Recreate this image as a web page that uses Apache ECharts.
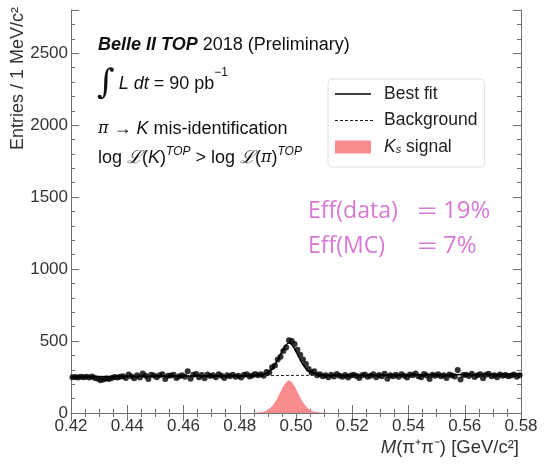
<!DOCTYPE html>
<html>
<head>
<meta charset="utf-8">
<script src="https://cdn.jsdelivr.net/npm/echarts@6/dist/echarts.min.js"></script>
<style>html,body{margin:0;padding:0;background:#fff;}#c{width:551px;height:467px;}</style>
</head>
<body>
<div id="c"></div>
<script>
// Data: bin centres 0.4205 ... 0.5795 (1 MeV bins)
const binStart = 0.4205;
const binWidth = 0.001;
const dataCounts = [
  248, 250, 246, 252, 249, 251, 247, 253, 243, 238,
  228, 232, 240, 236, 244, 250, 247, 252, 256, 244,
  268, 254, 241, 262, 247, 275, 258, 237, 266, 261,
  249, 262, 270, 236, 258, 260, 265, 243, 255, 262,
  252, 290, 238, 266, 271, 249, 264, 242, 268, 257,
  263, 248, 270, 258, 244, 262, 256, 266, 251, 259,
  247, 266, 269, 254, 260, 271, 262, 270, 258, 285,
  282, 318, 330, 372, 390, 430, 455, 505, 500, 480,
  440, 405, 372, 340, 305, 282, 290, 262, 270, 255,
  262, 248, 266, 254, 271, 258, 252, 264, 246, 260,
  266, 257, 243, 262, 268, 251, 259, 270, 248, 264,
  256, 273, 238, 262, 255, 266, 252, 270, 259, 246,
  268, 262, 274, 256, 248, 271, 260, 236, 265, 258,
  270, 255, 262, 244, 268, 261, 253, 298, 232, 264,
  266, 257, 272, 250, 262, 269, 241, 265, 273, 256,
  262, 248, 267, 259, 264, 255, 261, 268, 252, 263
];
// Fit curve
const fitX = [0.42, 0.484, 0.485, 0.486, 0.487, 0.488, 0.489, 0.490, 0.491, 0.492, 0.493, 0.494, 0.495, 0.496, 0.497, 0.4975, 0.498, 0.499, 0.500, 0.501, 0.502, 0.503, 0.504, 0.505, 0.506, 0.507, 0.508, 0.509, 0.510, 0.511, 0.512, 0.58];
const fitY = [252, 259, 261, 262, 265, 268, 273, 283, 297, 320, 351, 388, 427, 462, 483, 486, 483, 462, 428, 389, 352, 321, 299, 285, 275, 270, 267, 265, 264, 263, 262, 270];
// Background (linear)
const bkgX = [0.42, 0.58];
const bkgY = [252, 270];
// Signal component
const sigX = [0.42, 0.484, 0.485, 0.486, 0.487, 0.488, 0.489, 0.490, 0.491, 0.492, 0.493, 0.494, 0.495, 0.496, 0.497, 0.4975, 0.498, 0.499, 0.500, 0.501, 0.502, 0.503, 0.504, 0.505, 0.506, 0.507, 0.508, 0.509, 0.510, 0.511, 0.512, 0.58];
const sigY = [0, 0, 2, 3, 5, 8, 13, 23, 37, 60, 91, 128, 167, 201, 222, 225, 222, 201, 167, 128, 91, 60, 37, 23, 13, 8, 5, 3, 2, 1, 0, 0];
const xTicks = [0.42, 0.44, 0.46, 0.48, 0.50, 0.52, 0.54, 0.56, 0.58];
const yTicks = [0, 500, 1000, 1500, 2000, 2500];

const zip = (xs, ys) => xs.map((x, i) => [x, ys[i]]);
const dataPts = dataCounts.map((v, i) => [+(binStart + i * binWidth).toFixed(4), v]);

const axisCol = '#707070';
const font = '"Liberation Sans", Arial, sans-serif';
const effFont = '24px "Open Sans", sans-serif';
const effCol = '#d67ad5';
const chart = echarts.init(document.getElementById('c'), null, {renderer: 'canvas'});

// legend icons (bounds 44x14, drawn part 36 wide)
const iconSolid = 'path://M0,0 M44,14 M0,6.3 H36 V7.7 H0 Z';
let dashPath = 'path://M0,0 M44,14';
for (let x = 0; x < 36; x += 5) dashPath += ' M' + x + ',6.5 h3 v1 h-3 Z';
const iconRect = 'path://M0,0 M44,14 M0,0.5 H36 V13.5 H0 Z';

const baseX = {
  type: 'value', min: 0.42, max: 0.58, interval: 0.02,
  axisLine: {show: true, lineStyle: {color: axisCol, width: 1}},
  axisTick: {show: true, inside: true, length: 8, lineStyle: {color: axisCol}},
  minorTick: {show: true, splitNumber: 4, length: 4, lineStyle: {color: axisCol}},
  splitLine: {show: false}
};
const baseY = {
  type: 'value', min: 0, max: 2800, interval: 500,
  axisLine: {show: true, lineStyle: {color: axisCol, width: 1}},
  axisTick: {show: true, inside: true, length: 8, lineStyle: {color: axisCol}},
  minorTick: {show: true, splitNumber: 5, length: 4, lineStyle: {color: axisCol}},
  splitLine: {show: false}
};

const option = {
  animation: false,
  backgroundColor: '#fff',
  grid: {left: 71, right: 30, top: 10, bottom: 54},
  xAxis: [
    Object.assign({}, baseX, {position: 'bottom',
      axisLabel: {show: true, margin: 5, color: '#333', fontSize: 17, fontFamily: font,
        formatter: v => xTicks.some(t => Math.abs(t - v) < 1e-9) ? v.toFixed(2) : ''}}),
    Object.assign({}, baseX, {position: 'top', axisLabel: {show: false}})
  ],
  yAxis: [
    Object.assign({}, baseY, {position: 'left',
      axisLabel: {show: true, margin: 3, color: '#333', fontSize: 17, fontFamily: font, showMaxLabel: false,
        formatter: v => yTicks.includes(v) ? String(v) : ''}}),
    Object.assign({}, baseY, {position: 'right', axisLabel: {show: false}})
  ],
  legend: {
    left: 328, top: 79, orient: 'vertical',
    backgroundColor: '#fff', borderColor: '#e0e0e0', borderWidth: 1, borderRadius: 4,
    padding: [6, 7, 11, 7],
    itemWidth: 44, itemHeight: 14, itemGap: 8.5,
    textStyle: {fontSize: 17.5, lineHeight: 16, color: '#222', fontFamily: font,
      rich: {i: {fontStyle: 'italic', fontSize: 17.5, lineHeight: 16, fontFamily: font, color: '#222'},
             sub: {fontSize: 11, fontStyle: 'italic', fontFamily: font, color: '#222', verticalAlign: 'bottom', padding: [8, 0, 0, 0]}}},
    formatter: n => n === 'Ks signal' ? '{i|K}{sub|s} signal' : n,
    data: [
      {name: 'Best fit', icon: iconSolid},
      {name: 'Background', icon: dashPath},
      {name: 'Ks signal', icon: iconRect, itemStyle: {color: '#f98c8e'}}
    ]
  },
  series: [
    {
      name: 'Ks signal', type: 'line', data: zip(sigX, sigY), smooth: 0.4,
      showSymbol: false, symbol: 'none',
      lineStyle: {width: 0, color: '#f98c8e'},
      itemStyle: {color: '#f98c8e'},
      areaStyle: {color: '#f98c8e', opacity: 1},
      z: 1
    },
    {
      name: 'Data', type: 'scatter', data: dataPts, symbol: 'circle', symbolSize: 6,
      itemStyle: {color: '#000'}, z: 3
    },
    {
      name: 'Background', type: 'line', data: zip(bkgX, bkgY), showSymbol: false, symbol: 'none',
      lineStyle: {color: '#222', width: 1, type: [3, 2]}, itemStyle: {color: '#222'}, z: 2
    },
    {
      name: 'Best fit', type: 'line', data: zip(fitX, fitY), smooth: 0.4, showSymbol: false, symbol: 'none',
      lineStyle: {color: '#000', width: 1.5}, itemStyle: {color: '#000'}, z: 4
    }
  ],
  graphic: [
    {type: 'text', x: 18, y: 7, rotation: Math.PI / 2,
      style: {text: 'Entries / 1 MeV/c²', font: '18px ' + font, fill: '#333', textAlign: 'right', textVerticalAlign: 'middle'}},
    {type: 'text', x: 519, y: 448,
      style: {text: '{i|M}(π⁺π⁻) [GeV/c²]', font: '18.5px ' + font, fill: '#333', textAlign: 'right', textVerticalAlign: 'middle',
        rich: {i: {fontStyle: 'italic', fontSize: 18.5, fontFamily: font, fill: '#333'}}}},
    {type: 'text', x: 98, y: 45,
      style: {text: '{b|Belle II TOP} 2018 (Preliminary)', font: '18px ' + font, fill: '#111', textVerticalAlign: 'middle',
        rich: {b: {fontStyle: 'italic', fontWeight: 'bold', fontSize: 18, fontFamily: font, fill: '#111'}}}},
    {type: 'text', x: 97, y: 84,
      style: {text: '{int|∫}{i|L dt} = 90 pb{sup|−1}', font: '18px ' + font, fill: '#111', textVerticalAlign: 'middle',
        rich: {int: {fontSize: 34, fontFamily: '"DejaVu Serif", serif', fill: '#111', padding: [0, 4, 0, 0]},
               i: {fontStyle: 'italic', fontSize: 18, fontFamily: font, fill: '#111'},
               sup: {fontSize: 12, fontFamily: font, fill: '#111', verticalAlign: 'top', padding: [0, 0, 12, 0]}}}},
    {type: 'text', x: 98, y: 129,
      style: {text: '{p|π} → {i|K} mis-identification', font: '18px ' + font, fill: '#111', textVerticalAlign: 'middle',
        rich: {p: {fontStyle: 'italic', fontSize: 16, fontFamily: '"DejaVu Serif", serif', fill: '#111'},
               i: {fontStyle: 'italic', fontSize: 18, fontFamily: font, fill: '#111'}}}},
    {type: 'text', x: 98, y: 158,
      style: {text: 'log {s|ℒ}({i|K}){sup|TOP} > log {s|ℒ}({p|π}){sup|TOP}', font: '18px ' + font, fill: '#111', textVerticalAlign: 'middle',
        rich: {s: {fontStyle: 'italic', fontSize: 18, fontFamily: '"DejaVu Serif", serif', fill: '#111'},
               i: {fontStyle: 'italic', fontSize: 18, fontFamily: font, fill: '#111'},
               p: {fontStyle: 'italic', fontSize: 16, fontFamily: '"DejaVu Serif", serif', fill: '#111'},
               sup: {fontStyle: 'italic', fontSize: 12, fontFamily: font, fill: '#111', verticalAlign: 'top', padding: [0, 0, 12, 0]}}}},
    {type: 'text', x: 308, y: 211, scaleX: 0.96,
      style: {text: 'Eff(data)', font: effFont, fill: effCol, textVerticalAlign: 'middle'}},
    {type: 'text', x: 417, y: 212, scaleX: 1.5,
      style: {text: '=', font: effFont, fill: effCol, textVerticalAlign: 'middle'}},
    {type: 'text', x: 443, y: 211,
      style: {text: '19%', font: effFont, fill: effCol, textVerticalAlign: 'middle'}},
    {type: 'text', x: 308, y: 246, scaleX: 0.96,
      style: {text: 'Eff(MC)', font: effFont, fill: effCol, textVerticalAlign: 'middle'}},
    {type: 'text', x: 417, y: 247, scaleX: 1.5,
      style: {text: '=', font: effFont, fill: effCol, textVerticalAlign: 'middle'}},
    {type: 'text', x: 443, y: 246,
      style: {text: '7%', font: effFont, fill: effCol, textVerticalAlign: 'middle'}}
  ]
};
chart.setOption(option);
</script>
</body>
</html>
